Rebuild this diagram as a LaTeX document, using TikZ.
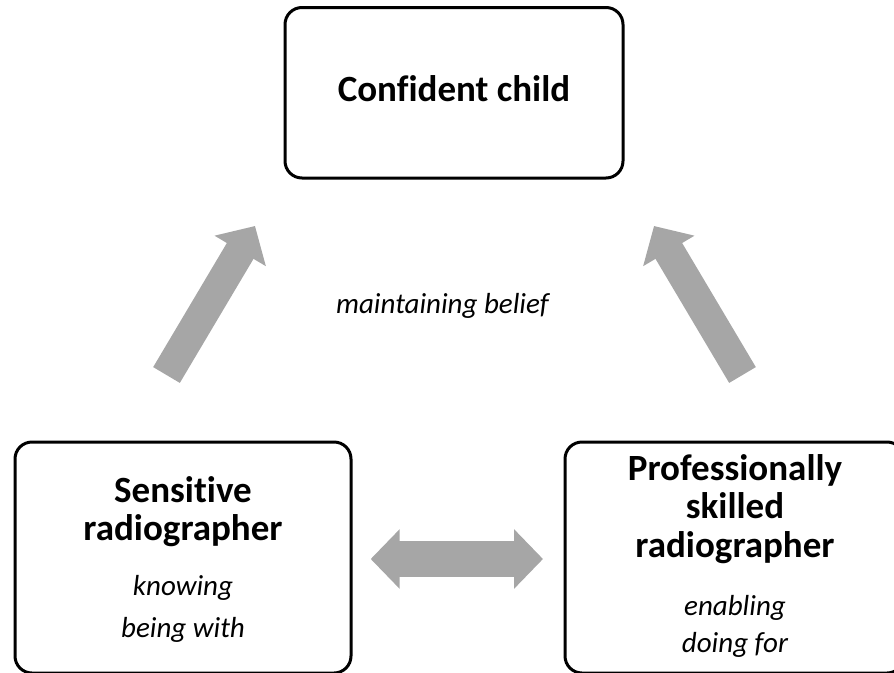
\documentclass[tikz,border=0pt]{standalone}
\usepackage{fontspec}
\setmainfont{Carlito}[Ligatures={NoCommon}]
\usetikzlibrary{arrows.meta}
\definecolor{arrowgray}{HTML}{A6A6A6}
\tikzset{
  box/.style={draw=black, line width=3pt, rounded corners=17pt},
  title/.style={anchor=base, font=\fontsize{37}{38}\selectfont\bfseries, inner sep=0pt},
  role/.style={anchor=base, font=\fontsize{29}{30}\selectfont\itshape, inner sep=0pt},
  fat/.style={draw=arrowgray, line width=31pt,
    -{Triangle[width=58pt,length=29pt]}, color=arrowgray},
  fatboth/.style={draw=arrowgray, line width=36pt,
    {Triangle[width=58pt,length=29pt]}-{Triangle[width=58pt,length=29pt]}, color=arrowgray}
}
\begin{document}
\begin{tikzpicture}[x=1pt,y=-1pt]
\useasboundingbox (0,0) rectangle (894,672);
\begin{scope}
\clip (0,0) rectangle (894,672);

% the three boxes
\draw[box] (285,7.5) rectangle (623,178);
\draw[box] (15,442) rectangle (351,673);
\draw[box] (565,442) rectangle (904,673);

% box texts
\node[title] (child) at (454,101.5) {Confident child};

\node[title] (sens1) at (183,502) {Sensitive};
\node[title] (sens2) at (183,540) {radiographer};
\node[role]  (sens3) at (183,595) {knowing};
\node[role]  (sens4) at (183,637) {being with};

\node[title] (prof1) at (735,480) {Professionally};
\node[title] (prof2) at (735,518) {skilled};
\node[title] (prof3) at (735,557) {radiographer};
\node[role]  (prof4) at (735,615) {enabling};
\node[role]  (prof5) at (735,652) {doing for};

\node[role] (belief) at (442.5,313) {maintaining belief};

% block arrows
\coordinate (ltail) at (166.5,375);
\coordinate (lhead) at (255,226);
\coordinate (rtail) at (742.5,375);
\coordinate (rhead) at (654,226);
\coordinate (mleft) at (370.7,559);
\coordinate (mright) at (543,559);

\draw[fat] (ltail) -- (lhead);
\draw[fat] (rtail) -- (rhead);
\draw[fatboth] (mleft) -- (mright);
\end{scope}
\end{tikzpicture}
\end{document}
